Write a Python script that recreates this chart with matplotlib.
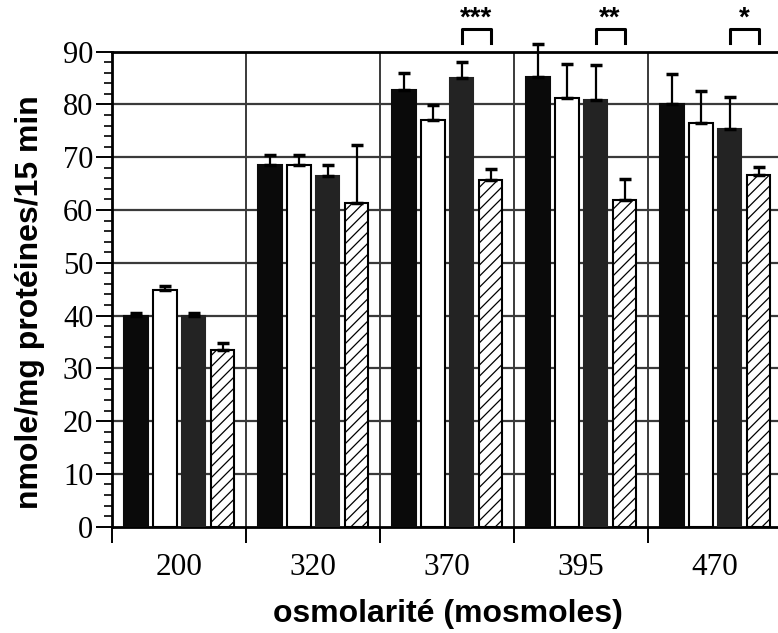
import matplotlib
matplotlib.use("Agg")
import matplotlib.pyplot as plt
import numpy as np

categories = ["200", "320", "370", "395", "470"]
series1 = [39.9, 68.5, 82.8, 85.2, 80.1]   # black
series2 = [44.8, 68.5, 77.1, 81.2, 76.4]   # white
series3 = [39.9, 66.5, 85.0, 80.9, 75.4]   # dark
series4 = [33.4, 61.3, 65.6, 61.9, 66.7]   # hatched
err1 = [0.6, 1.9, 3.1, 6.2, 5.6]
err2 = [0.8, 1.9, 2.8, 6.4, 6.1]
err3 = [0.6, 2.0, 3.0, 6.5, 6.0]
err4 = [1.4, 11.0, 2.1, 3.9, 1.4]
signif_groups = [2, 3, 4]
signif_labels = ["***", "**", "*"]

plt.rcParams['hatch.linewidth'] = 0.9
fig = plt.figure(figsize=(7.78, 6.33), dpi=100)
ax = fig.add_axes([112/778, 1-526.7/633, (782-112)/778, (526.7-51.7)/633])

n = len(categories)
offsets = [0.18, 0.395, 0.61, 0.825]
width = 0.175
styles = [
    dict(color="#0a0a0a", edgecolor="#0a0a0a"),
    dict(color="white", edgecolor="black"),
    dict(color="#232323", edgecolor="#232323"),
    dict(color="white", edgecolor="black", hatch="///"),
]
series = [series1, series2, series3, series4]
errs = [err1, err2, err3, err4]
x0 = np.arange(n)
for s, e, off, st in zip(series, errs, offsets, styles):
    xs = x0 + off
    ax.bar(xs, s, width=width, linewidth=1.5, zorder=3, **st)
    eb = ax.errorbar(xs, s, yerr=[np.zeros(n), e], fmt='none', ecolor='black',
                     elinewidth=1.6, capsize=4, capthick=2.5, zorder=4)
    for child in eb.get_children():
        child.set_clip_on(False)

ax.set_xlim(0, 5)
ax.set_ylim(0, 90)

ax.set_yticks(np.arange(0, 91, 10))
ax.set_yticks(np.arange(0, 91, 2), minor=True)
ax.set_xticks(np.arange(0, 6))
ax.set_xticklabels([])
ax.set_xticks(x0 + 0.5, minor=True)
ax.set_xticklabels(categories, minor=True)
for yv in range(10, 90, 10):
    ax.axhline(yv, color="#3a3a3a", lw=1.6, zorder=1)
for xv in range(1, 5):
    ax.axvline(xv, color="#3a3a3a", lw=1.4, zorder=1)

ax.tick_params(axis='y', which='major', length=11.5, width=1.4, direction='out',
               labelsize=22, pad=2)
ax.tick_params(axis='y', which='minor', length=5.5, width=1.2, direction='out')
ax.tick_params(axis='x', which='major', length=11.5, width=1.4, direction='out')
ax.tick_params(axis='x', which='minor', length=0, labelsize=22.5, pad=19)
for lab in ax.get_xticklabels(minor=True) + ax.get_yticklabels():
    lab.set_family("Liberation Serif")

for sp in ['left', 'bottom', 'top']:
    ax.spines[sp].set_linewidth(2.0)
ax.spines['right'].set_visible(False)

ax.set_ylabel("nmole/mg protéines/15 min", family="Liberation Sans",
              fontweight='bold', fontsize=23)
ax.yaxis.set_label_coords(-0.1, 0.472)
ax.set_xlabel("osmolarité (mosmoles)", family="Liberation Sans",
              fontweight='bold', fontsize=23)
ax.xaxis.set_label_coords(0.5007, -0.152)

for g, lab in zip(signif_groups, signif_labels):
    xa = g + offsets[2]
    xb = g + offsets[3]
    ax.plot([xa, xa, xb, xb], [91.7, 94.3, 94.3, 91.7], color='black', lw=2.2,
            clip_on=False, zorder=5)
    ax.text((xa + xb) / 2, 94.9, lab, ha='center', va='baseline', fontsize=20,
            fontweight='bold', family="Liberation Sans", clip_on=False)

fig.savefig("out.png", dpi=100)
